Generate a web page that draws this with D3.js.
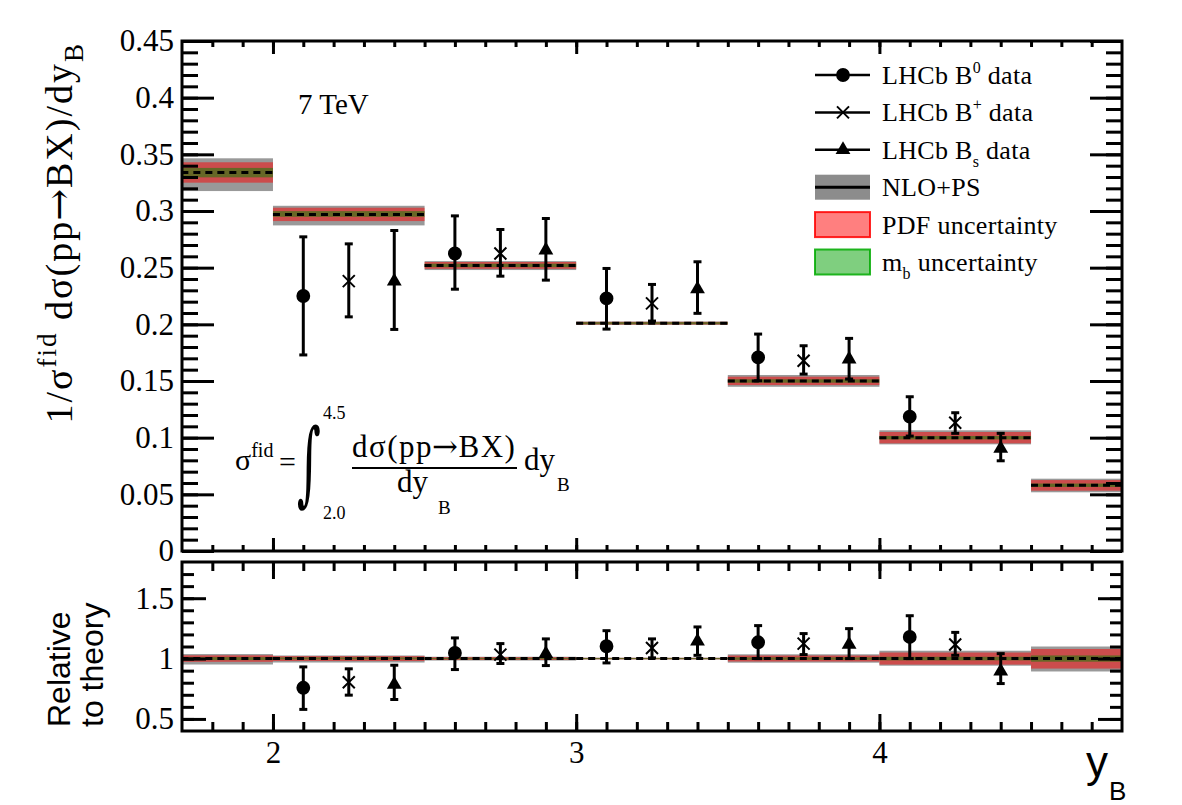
<!DOCTYPE html>
<html lang="en">
<head>
<meta charset="UTF-8">
<title>B rapidity distribution</title>
<script src="https://cdn.jsdelivr.net/npm/d3@7"></script>
<style>
  body { margin: 0; background: #fff; }
  svg text { font-family: "Liberation Serif", "DejaVu Serif", serif; fill: #000; }
  svg text.sans { font-family: "Liberation Sans", Arial, sans-serif; }
</style>
</head>
<body>
<svg id="chart" width="1182" height="805"></svg>
<script>
// theory bins (outer bins get cut by the frame)
var binEdges  = [1.5, 2.0, 2.5, 3.0, 3.5, 4.0, 4.5, 5.0];
var theory    = [0.334, 0.297, 0.252, 0.201, 0.150, 0.100, 0.058];
var nloLow    = [0.3176, 0.2873, 0.2479, 0.1995, 0.1449, 0.0941, 0.0518];
var nloHigh   = [0.3465, 0.3046, 0.2558, 0.2025, 0.1553, 0.1065, 0.0638];
var pdfLow    = [0.3250, 0.2911, 0.2490, 0.1998, 0.1464, 0.0950, 0.0532];
var pdfHigh   = [0.3430, 0.3029, 0.2550, 0.2022, 0.1538, 0.1050, 0.0626];
var mbLow     = [0.3297, 0.2949, 0.2505, 0.2001, 0.1485, 0.0985, 0.0565];
var mbHigh    = [0.3380, 0.2999, 0.2535, 0.2019, 0.1515, 0.1015, 0.0595];

// LHCb data, top panel
var b0X   = [2.1, 2.6, 3.1, 3.6, 4.1];
var b0Y   = [0.2250, 0.2625, 0.2229, 0.1708, 0.1185];
var b0Lo  = [0.1730, 0.2310, 0.1958, 0.1502, 0.1014];
var b0Hi  = [0.2772, 0.2957, 0.2493, 0.1914, 0.1361];
var bpX   = [2.25, 2.75, 3.25, 3.75, 4.25];
var bpY   = [0.2381, 0.2625, 0.2185, 0.1679, 0.1132];
var bpLo  = [0.2066, 0.2425, 0.2029, 0.1561, 0.1038];
var bpHi  = [0.2710, 0.2837, 0.2352, 0.1811, 0.1220];
var bsX   = [2.4, 2.9, 3.4, 3.9, 4.4];
var bsY   = [0.2380, 0.2655, 0.2311, 0.1693, 0.0904];
var bsLo  = [0.1955, 0.2390, 0.2097, 0.1517, 0.0796];
var bsHi  = [0.2828, 0.2934, 0.2552, 0.1876, 0.1038];

// ratio panel
var b0R   = [0.758, 1.047, 1.102, 1.135, 1.179];
var b0RLo = [0.579, 0.909, 0.964, 1.000, 1.000];
var b0RHi = [0.931, 1.171, 1.231, 1.273, 1.355];
var bpR   = [0.804, 1.033, 1.088, 1.124, 1.116];
var bpRLo = [0.697, 0.959, 1.006, 1.033, 1.027];
var bpRHi = [0.915, 1.124, 1.163, 1.207, 1.217];
var bsR   = [0.785, 1.040, 1.143, 1.116, 0.895];
var bsRLo = [0.661, 0.942, 1.027, 1.000, 0.793];
var bsRHi = [0.945, 1.163, 1.262, 1.248, 1.041];

// ticks
var xTicks      = [2, 3, 4];
var xTickLabels = ["2", "3", "4"];
var yTicks      = [0, 0.05, 0.1, 0.15, 0.2, 0.25, 0.3, 0.35, 0.4, 0.45];
var yTickLabels = ["0", "0.05", "0.1", "0.15", "0.2", "0.25", "0.3", "0.35", "0.4", "0.45"];
var rTicks      = [0.5, 1, 1.5];
var rTickLabels = ["0.5", "1", "1.5"];

var L = 182, R = 1122;
var topT = 41, topB = 551, botT = 562, botB = 731;
var SERIF = "'Liberation Serif', 'DejaVu Serif', serif";

var svg = d3.select("#chart");
svg.append("rect").attr("width", 1182).attr("height", 805).attr("fill", "#fff");

var x = d3.scaleLinear().domain([1.7, 4.8]).range([L, R]);
var y = d3.scaleLinear().domain([0, 0.45]).range([topB, topT]);
var yr = d3.scaleLinear().domain([0.4, 1.8]).range([botB, botT]);

var defs = svg.append("defs");
defs.append("clipPath").attr("id", "clipTop").append("rect")
  .attr("x", L).attr("y", topT).attr("width", R - L).attr("height", topB - topT);
defs.append("clipPath").attr("id", "clipBot").append("rect")
  .attr("x", L).attr("y", botT).attr("width", R - L).attr("height", botB - botT);

var GRAY = "#999999", RED = "rgba(255,0,0,0.5)", GREEN = "rgba(0,130,0,0.5)";

function drawTheory(g, sy, lows, highs, color, norm) {
  g.selectAll(null).data(theory).enter().append("rect")
    .attr("x", function(d, i) { return x(binEdges[i]); })
    .attr("width", function(d, i) { return x(binEdges[i + 1]) - x(binEdges[i]); })
    .attr("y", function(d, i) { return sy(highs[i] / (norm ? d : 1)); })
    .attr("height", function(d, i) { return sy(lows[i] / (norm ? d : 1)) - sy(highs[i] / (norm ? d : 1)); })
    .attr("fill", color);
}

function drawPanel(clip, sy, norm) {
  var g = svg.append("g").attr("clip-path", "url(#" + clip + ")");
  drawTheory(g, sy, nloLow, nloHigh, GRAY, norm);
  drawTheory(g, sy, pdfLow, pdfHigh, RED, norm);
  drawTheory(g, sy, mbLow, mbHigh, GREEN, norm);
  g.selectAll(null).data(theory).enter().append("line")
    .attr("x1", function(d, i) { return x(binEdges[i]); })
    .attr("x2", function(d, i) { return x(binEdges[i + 1]); })
    .attr("y1", function(d) { return sy(norm ? 1 : d); })
    .attr("y2", function(d) { return sy(norm ? 1 : d); })
    .attr("stroke", "#000").attr("stroke-width", 3).attr("stroke-dasharray", "7,5");
  return g;
}

var circleSym = d3.symbol().type(d3.symbolCircle).size(150);
var triSym = d3.symbol().type(d3.symbolTriangle).size(95);
var crossPath = "M-6,-6L6,6M-6,6L6,-6";

function drawSeries(g, sy, xs, ys, lo, hi, kind) {
  var pts = g.selectAll(null).data(xs).enter().append("g");
  pts.append("line")
    .attr("x1", function(d) { return x(d); }).attr("x2", function(d) { return x(d); })
    .attr("y1", function(d, i) { return sy(lo[i]); }).attr("y2", function(d, i) { return sy(hi[i]); })
    .attr("stroke", "#000").attr("stroke-width", 3);
  [lo, hi].forEach(function(arr) {
    pts.append("line")
      .attr("x1", function(d) { return x(d) - 4; }).attr("x2", function(d) { return x(d) + 4; })
      .attr("y1", function(d, i) { return sy(arr[i]); }).attr("y2", function(d, i) { return sy(arr[i]); })
      .attr("stroke", "#000").attr("stroke-width", 3);
  });
  var m = pts.append("path")
    .attr("transform", function(d, i) { return "translate(" + x(d) + "," + sy(ys[i]) + ")"; });
  styleMarker(m, kind);
}

function styleMarker(m, kind) {
  if (kind == "circle") m.attr("d", circleSym()).attr("fill", "#000");
  else if (kind == "tri") m.attr("d", triSym()).attr("fill", "#000");
  else m.attr("d", crossPath).attr("fill", "none").attr("stroke", "#000").attr("stroke-width", 2);
}

var gTop = drawPanel("clipTop", y, false);
drawSeries(gTop, y, b0X, b0Y, b0Lo, b0Hi, "circle");
drawSeries(gTop, y, bpX, bpY, bpLo, bpHi, "cross");
drawSeries(gTop, y, bsX, bsY, bsLo, bsHi, "tri");

var gBot = drawPanel("clipBot", yr, true);
drawSeries(gBot, yr, b0X, b0R, b0RLo, b0RHi, "circle");
drawSeries(gBot, yr, bpX, bpR, bpRLo, bpRHi, "cross");
drawSeries(gBot, yr, bsX, bsR, bsRLo, bsRHi, "tri");

// axes
function addAxis(axis, tx, ty) {
  var g = svg.append("g").attr("transform", "translate(" + tx + "," + ty + ")").call(axis);
  g.attr("font-family", SERIF).attr("font-size", 31);
  g.select(".domain").remove();
  g.selectAll(".tick line").attr("stroke-width", 3);
  g.selectAll("text").attr("font-family", SERIF).style("font-size", "31px").style("font-family", SERIF);
  return g;
}

function yAxes(sy, major, labels, minor, majLen, minLen) {
  addAxis(d3.axisLeft(sy).tickValues(minor).tickFormat("").tickSize(-minLen), L, 0);
  addAxis(d3.axisRight(sy).tickValues(minor).tickFormat("").tickSize(-minLen), R, 0);
  addAxis(d3.axisLeft(sy).tickValues(major).tickFormat(function(d, i) { return labels[i]; })
    .tickSize(-majLen).tickPadding(8), L, 0);
  addAxis(d3.axisRight(sy).tickValues(major).tickFormat("").tickSize(-majLen), R, 0);
}

var xMinor = d3.range(1.8, 4.75, 0.1);
function xAxes(yTopEdge, yBotEdge, majLen, minLen, withLabels) {
  addAxis(d3.axisBottom(x).tickValues(xMinor).tickFormat("").tickSize(-minLen), 0, yBotEdge);
  addAxis(d3.axisTop(x).tickValues(xMinor).tickFormat("").tickSize(-minLen), 0, yTopEdge);
  addAxis(d3.axisBottom(x).tickValues(xTicks)
    .tickFormat(function(d, i) { return withLabels ? xTickLabels[i] : ""; })
    .tickSize(-majLen).tickPadding(10), 0, yBotEdge);
  addAxis(d3.axisTop(x).tickValues(xTicks).tickFormat("").tickSize(-majLen), 0, yTopEdge);
}

yAxes(y, yTicks, yTickLabels, d3.range(0.01, 0.445, 0.01), 32, 16);
xAxes(topT, topB, 13, 6, false);
yAxes(yr, rTicks, rTickLabels, d3.range(0.5, 1.75, 0.1), 24, 12);
xAxes(botT, botB, 17, 9, true);

svg.append("rect").attr("x", L).attr("y", topT).attr("width", R - L).attr("height", topB - topT)
  .attr("fill", "none").attr("stroke", "#000").attr("stroke-width", 3);
svg.append("rect").attr("x", L).attr("y", botT).attr("width", R - L).attr("height", botB - botT)
  .attr("fill", "none").attr("stroke", "#000").attr("stroke-width", 3);

// text with super/subscripts; arrow glyph comes from DejaVu Serif
function rich(sel, parts, size, ratio) {
  var shift = 0;
  ratio = ratio || 0.62;
  parts.forEach(function(p) {
    var target = p.sup ? -0.42 * size : (p.sub ? 0.3 * size : 0);
    var ts = sel.append("tspan").text(p.t).attr("dy", target - shift);
    if (p.sup || p.sub) ts.style("font-size", Math.round(size * ratio) + "px");
    if (p.arrow) ts.style("font-family", "'DejaVu Serif', serif").attr("dx", p.arrow);
    if (p.dx) ts.attr("dx", p.dx);
    shift = target;
  });
  return sel;
}

function label(xp, yp, size, parts, anchor, rot, ratio) {
  var t = svg.append("text")
    .attr("transform", "translate(" + xp + "," + yp + ")" + (rot ? " rotate(-90)" : ""))
    .attr("text-anchor", anchor || "start").style("font-size", size + "px");
  return rich(t, parts, size, ratio);
}

// y titles
label(72, 42, 38, [{t: "1/σ"}, {t: "fid", sup: true}, {t: " dσ(pp"}, {t: "→", arrow: -1},
  {t: "BX)/dy", dx: -1}, {t: "B", sub: true}], "end", true, 0.72)
  .style("letter-spacing", "2px");
label(70, 727, 32, [{t: "Relative"}], "start", true).attr("class", "sans");
label(103, 727, 32, [{t: "to theory"}], "start", true).attr("class", "sans");
// x title
label(1086, 777, 44, [{t: "y"}], "start").attr("class", "sans");
label(1109, 800, 26, [{t: "B"}], "start").attr("class", "sans");

label(298, 114, 29, [{t: "7 TeV"}]);

// formula
label(235, 470, 30, [{t: "σ"}, {t: "fid", sup: true}], "start", false, 0.68);
label(279, 472, 30, [{t: "="}]);
svg.append("text").attr("transform", "translate(297,494) scale(0.5,1)").style("font-size", "92px")
  .style("font-family", "'DejaVu Serif', serif").text("∫");
label(323, 419, 18, [{t: "4.5"}]);
label(323, 519, 18, [{t: "2.0"}]);
label(352, 457, 31, [{t: "dσ(pp"}, {t: "→", arrow: -1}, {t: "BX)", dx: -1}])
  .style("letter-spacing", "1.5px");
svg.append("line").attr("x1", 352).attr("x2", 517).attr("y1", 468).attr("y2", 468)
  .attr("stroke", "#000").attr("stroke-width", 2);
label(397, 492, 31, [{t: "dy"}]);
label(438, 514, 19, [{t: "B"}]);
label(524, 470, 31, [{t: "dy"}]);
label(557, 491, 19, [{t: "B"}]);

// legend
var legendRows = [
  [{t: "LHCb B"}, {t: "0", sup: true}, {t: " data"}],
  [{t: "LHCb B"}, {t: "+", sup: true}, {t: " data"}],
  [{t: "LHCb B"}, {t: "s", sub: true}, {t: " data"}],
  [{t: "NLO+PS"}],
  [{t: "PDF uncertainty"}],
  [{t: "m"}, {t: "b", sub: true}, {t: " uncertainty"}]
];
var legendKinds = ["circle", "cross", "tri", "nlo", "pdf", "mb"];
legendRows.forEach(function(parts, i) {
  var cy = 75 + i * 37.4;
  var k = legendKinds[i];
  if (k == "circle" || k == "cross" || k == "tri") {
    svg.append("line").attr("x1", 815).attr("x2", 870).attr("y1", cy).attr("y2", cy)
      .attr("stroke", "#000").attr("stroke-width", 2.5);
    styleMarker(svg.append("path").attr("transform", "translate(843," + cy + ")"), k);
  } else {
    var fill = k == "nlo" ? "#8c8c8c" : (k == "pdf" ? RED : "rgba(0,160,0,0.5)");
    var r = svg.append("rect").attr("x", 815).attr("y", cy - 12.5).attr("width", 55).attr("height", 25)
      .attr("fill", fill);
    if (k == "pdf") r.attr("stroke", "rgba(255,0,0,0.85)").attr("stroke-width", 2);
    if (k == "mb") r.attr("stroke", "rgba(0,170,0,0.85)").attr("stroke-width", 2);
    if (k == "nlo") svg.append("line").attr("x1", 815).attr("x2", 870).attr("y1", cy).attr("y2", cy)
      .attr("stroke", "#000").attr("stroke-width", 3);
  }
  label(882, cy + 9, 26, parts).style("letter-spacing", "0.3px");
});
</script>
</body>
</html>
